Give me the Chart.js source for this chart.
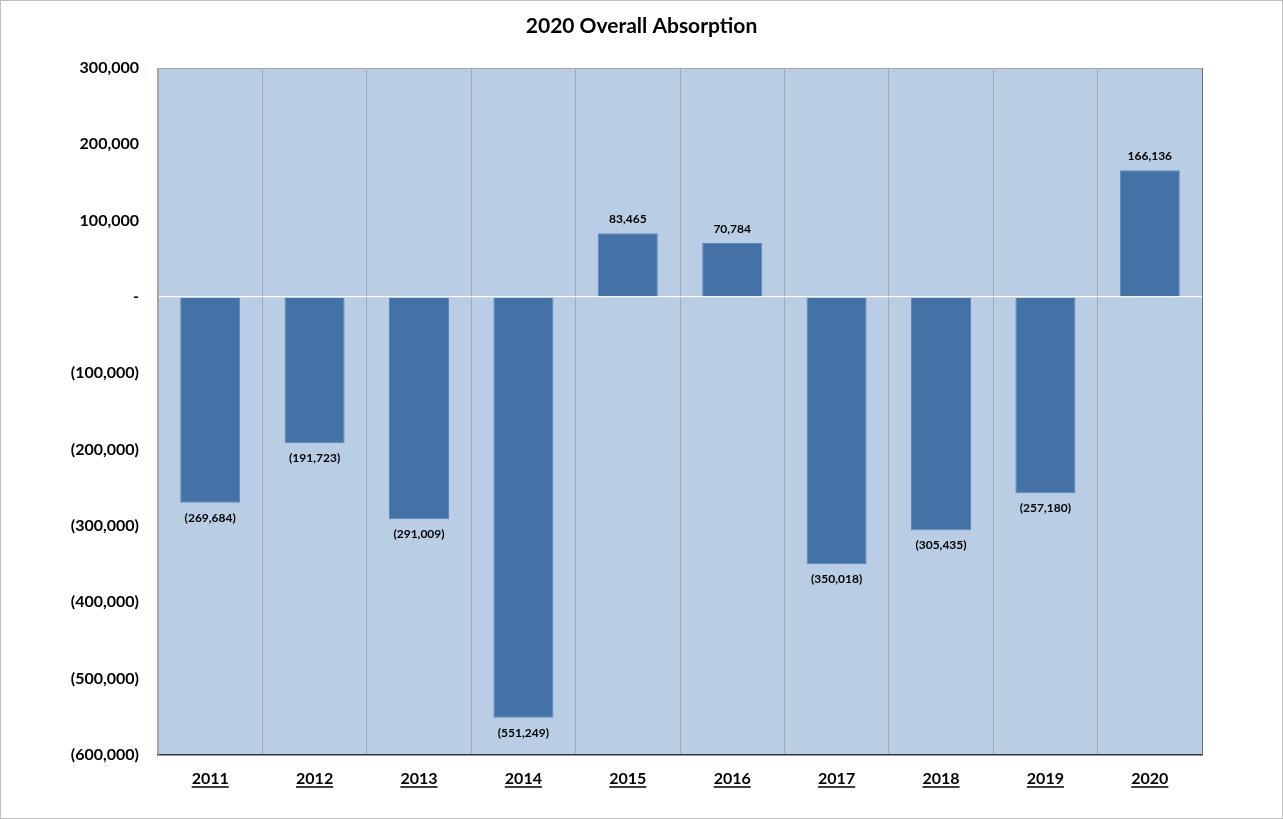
<!DOCTYPE html>
<html>
<head>
    <title>2020 Overall Absorption</title>
    <script src="https://cdn.jsdelivr.net/npm/chart.js"></script>
    <style>
        body {
            margin: 0;
            background-color: #ffffff;
            font-family: 'Lato', sans-serif;
        }
        #wrap {
            width: 1283px;
            height: 819px;
            border: 1px solid #bdbdbd;
            box-sizing: border-box;
            position: relative;
        }
    </style>
</head>
<body>
    <div id="wrap">
        <canvas id="absorption"></canvas>
    </div>
    <script>
        const chartTitle = '2020 Overall Absorption';
        const years = ['2011', '2012', '2013', '2014', '2015', '2016', '2017', '2018', '2019', '2020'];
        const absorption = [-269684, -191723, -291009, -551249, 83465, 70784, -350018, -305435, -257180, 166136];
        const yMin = -600000;
        const yMax = 300000;
        const yStep = 100000;

        // accounting style: negatives in brackets, zero as a dash
        function fmt(v) {
            if (v === 0) return '-';
            const s = Math.abs(v).toLocaleString('en-US');
            return v < 0 ? '(' + s + ')' : s;
        }

        const plotBackground = {
            id: 'plotBackground',
            beforeDraw(chart) {
                const a = chart.chartArea;
                const ctx = chart.ctx;
                ctx.save();
                ctx.fillStyle = '#b9cde5';
                ctx.fillRect(a.left, a.top, a.right - a.left, a.bottom - a.top);
                ctx.restore();
            },
            afterDraw(chart) {
                const a = chart.ctx, c = chart.chartArea;
                a.save();
                // title centred on the whole canvas, not just the plot
                a.font = 'bold 21px Lato';
                a.fillStyle = '#000';
                a.textAlign = 'center';
                a.textBaseline = 'middle';
                a.fillText(chartTitle, chart.width / 2, 25);

                // top and right edges of the plot box
                a.strokeStyle = '#a6a6a6';
                a.lineWidth = 1;
                a.beginPath();
                a.moveTo(c.left, c.top + 0.5);
                a.lineTo(c.right, c.top + 0.5);
                a.stroke();
                a.strokeStyle = '#6f6f6f';
                a.beginPath();
                a.moveTo(c.right + 0.5, c.top);
                a.lineTo(c.right + 0.5, c.bottom);
                a.stroke();

                // underline the year labels
                const xs = chart.scales.x;
                a.font = 'bold 16px Lato';
                a.strokeStyle = '#000';
                a.lineWidth = 1.3;
                xs.ticks.forEach((t, i) => {
                    const w = a.measureText(years[i]).width;
                    const x = xs.getPixelForTick(i);
                    const y = xs.top + 32;
                    a.beginPath();
                    a.moveTo(x - w / 2, y);
                    a.lineTo(x + w / 2, y);
                    a.stroke();
                });
                a.restore();
            }
        };

        const valueLabels = {
            id: 'valueLabels',
            afterDatasetsDraw(chart) {
                const ctx = chart.ctx;
                const meta = chart.getDatasetMeta(0);
                ctx.save();
                ctx.font = 'bold 12px Lato';
                ctx.fillStyle = '#000';
                ctx.textAlign = 'center';
                ctx.textBaseline = 'middle';
                meta.data.forEach((bar, i) => {
                    const v = absorption[i];
                    const y = v >= 0 ? bar.y - 14 : bar.y + 15;
                    ctx.fillText(fmt(v), bar.x, y);
                });
                ctx.restore();
            }
        };

        new Chart(document.getElementById('absorption'), {
            type: 'bar',
            data: {
                labels: years,
                datasets: [{
                    data: absorption,
                    backgroundColor: '#4472a7',
                    borderColor: '#5b86ba',
                    borderWidth: 1,
                    barPercentage: 0.575,
                    categoryPercentage: 1
                }]
            },
            options: {
                responsive: true,
                maintainAspectRatio: false,
                animation: false,
                layout: { padding: { left: 0, right: 80, top: 67, bottom: 0 } },
                plugins: {
                    legend: { display: false },
                    tooltip: { enabled: false },
                    title: { display: false }
                },
                scales: {
                    x: {
                        grid: {
                            offset: true,
                            color: '#a6a6a6',
                            drawTicks: false
                        },
                        border: { color: '#333333', width: 1.5 },
                        ticks: {
                            color: '#000',
                            padding: 14,
                            font: { family: 'Lato', size: 16, weight: 'bold' }
                        },
                        afterFit(scale) { scale.height = 63; }
                    },
                    y: {
                        min: yMin,
                        max: yMax,
                        grid: {
                            drawTicks: false,
                            color: ctx => ctx.tick && ctx.tick.value === 0 ? '#ffffff' : 'rgba(0,0,0,0)',
                            lineWidth: 1.3
                        },
                        border: { color: '#a6a6a6' },
                        ticks: {
                            stepSize: yStep,
                            color: '#000',
                            padding: 19,
                            font: { family: 'Lato', size: 16, weight: 'bold' },
                            callback: v => fmt(v)
                        },
                        afterFit(scale) { scale.width = 157; }
                    }
                }
            },
            plugins: [plotBackground, valueLabels]
        });
    </script>
</body>
</html>
